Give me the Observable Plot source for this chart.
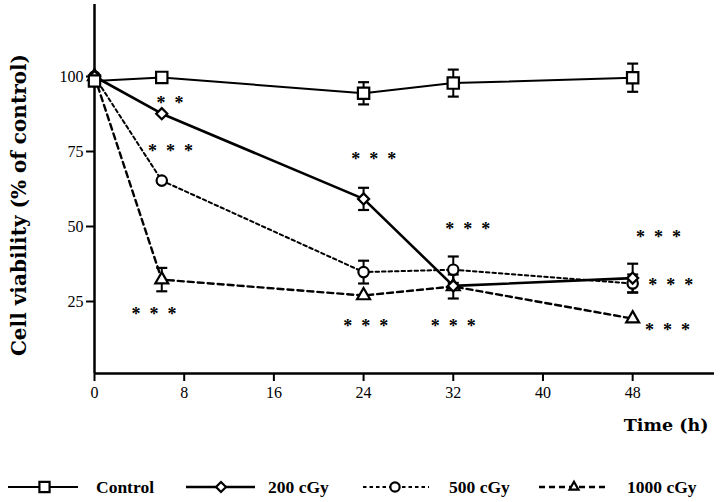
<!DOCTYPE html>
<html>
<head>
<meta charset="utf-8">
<script src="https://cdn.jsdelivr.net/npm/d3@7"></script>
<script src="https://cdn.jsdelivr.net/npm/@observablehq/plot@0.6"></script>
<style>
  html, body { margin: 0; padding: 0; background: #fff; }
  #chart svg { display: block; }
  #legend svg { display: block; }
</style>
</head>
<body>
<div id="chart"></div>
<div id="legend"></div>
<script>
// ---- data ----
const times = [0, 6, 24, 32, 48];
const seriesNames = ["Control", "200 cGy", "500 cGy", "1000 cGy"];
const controlValues = [98.5, 99.7, 94.4, 97.8, 99.6];
const cgy200Values = [100, 87.6, 59.2, 30.2, 32.8];
const cgy500Values = [100, 65.3, 34.8, 35.6, 31.0];
const cgy1000Values = [100, 32.3, 27.0, 30.0, 19.3];
const controlErrors = [0, 0, 3.7, 4.5, 4.7];
const cgy200Errors = [0, 0, 3.7, 0, 4.8];
const cgy500Errors = [0, 0, 3.8, 4.4, 3.0];
const cgy1000Errors = [0, 3.9, 0, 4.0, 0];
const starTimes = [6.73, 6.78, 5.3, 24.9, 24.2, 33.3, 32.0, 50.3, 51.4, 51.1];
const starValues = [92.7, 76.7, 22.3, 74.0, 18.3, 50.7, 18.3, 47.8, 31.8, 17.0];
const starLabels = ["**", "***", "***", "***", "***", "***", "***", "***", "***", "***"];
const xTicks = [0, 8, 16, 24, 32, 40, 48];
const yTicks = [25, 50, 75, 100];
const xDomain = [0, 55.3];
const yDomain = [1, 124];
const yLabel = "Cell viability (% of control)";
const xLabel = "Time (h)";

// ---- styles per series ----
const styles = {
  "Control": {symbol: "square", r: 6.4, width: 2, dash: null},
  "200 cGy": {symbol: "diamond2", r: 5.0, width: 2.6, dash: null},
  "500 cGy": {symbol: "circle", r: 5.2, width: 2, dash: "3.5,3"},
  "1000 cGy": {symbol: "triangle", r: 4.8, width: 2.4, dash: "6,4"}
};

const valueArrays = [controlValues, cgy200Values, cgy500Values, cgy1000Values];
const errorArrays = [controlErrors, cgy200Errors, cgy500Errors, cgy1000Errors];
const rows = [];
const errs = [];
seriesNames.forEach((name, i) => {
  times.forEach((t, j) => {
    rows.push({series: name, t, v: valueArrays[i][j]});
    if (errorArrays[i][j] > 0) errs.push({series: name, t, v: valueArrays[i][j], e: errorArrays[i][j]});
  });
});
const stars = starTimes.map((t, i) => ({t, v: starValues[i], label: starLabels[i].split("").join("  ")}));

// horizontal cap symbol for error bars
const capSymbol = {draw(ctx, size) { const w = Math.sqrt(size / Math.PI); ctx.moveTo(-w, 0); ctx.lineTo(w, 0); }};

const labelFont = "'DejaVu Serif', serif";
const marks = [
  Plot.ruleX([0], {y1: yDomain[0], y2: yDomain[1], stroke: "black", strokeWidth: 2.5}),
  Plot.ruleY([yDomain[0]], {x1: xDomain[0], x2: xDomain[1], stroke: "black", strokeWidth: 2.5}),
  Plot.axisY({ticks: yTicks, tickSize: 8, tickPadding: 3, label: null, strokeWidth: 2, fontSize: 16}),
  Plot.axisX({ticks: xTicks, tickSize: 8, tickPadding: 5, label: null, strokeWidth: 2, fontSize: 16}),
];
seriesNames.forEach(name => {
  const s = styles[name];
  marks.push(Plot.line(rows.filter(d => d.series === name), {x: "t", y: "v", stroke: "black", strokeWidth: s.width, strokeDasharray: s.dash}));
});
marks.push(
  Plot.ruleX(errs, {x: "t", y1: d => d.v - d.e, y2: d => d.v + d.e, stroke: "black", strokeWidth: 2}),
  Plot.dot(errs, {x: "t", y: d => d.v + d.e, symbol: capSymbol, r: 5.5, stroke: "black", fill: "none", strokeWidth: 2.2}),
  Plot.dot(errs, {x: "t", y: d => d.v - d.e, symbol: capSymbol, r: 5.5, stroke: "black", fill: "none", strokeWidth: 2.2})
);
// draw markers so that Control ends up on top
seriesNames.slice().reverse().forEach(name => {
  const s = styles[name];
  marks.push(Plot.dot(rows.filter(d => d.series === name), {x: "t", y: "v", symbol: s.symbol, r: s.r, stroke: "black", fill: "white", strokeWidth: 2.2}));
});
marks.push(
  Plot.text(stars, {x: "t", y: "v", text: "label", fontSize: 18, fontWeight: "bold", dy: 4.5, fill: "black"}),
  Plot.text([yLabel], {frameAnchor: "left", textAnchor: "middle", rotate: -90, dx: -75, dy: 16, fontSize: 20, fontWeight: "bold", fontFamily: labelFont, fill: "black"}),
  Plot.text([xLabel], {frameAnchor: "bottom-right", textAnchor: "end", dx: -6, dy: 57, fontSize: 17.5, fontWeight: "bold", fontFamily: labelFont, fill: "black"})
);

const chart = Plot.plot({
  width: 720,
  height: 460,
  marginLeft: 94,
  marginRight: 6,
  marginTop: 4,
  marginBottom: 87,
  x: {domain: xDomain},
  y: {domain: yDomain},
  style: {fontFamily: "'Liberation Serif', serif", fontSize: "16px", color: "black", background: "white", overflow: "visible"},
  marks
});
document.getElementById("chart").appendChild(chart);

// ---- legend ----
const legendLayout = [
  {x1: 8, x2: 78, cx: 44.5, tx: 96},
  {x1: 186, x2: 255, cx: 221, tx: 268},
  {x1: 363, x2: 429, cx: 395, tx: 449},
  {x1: 539, x2: 608, cx: 574, tx: 627}
];
const lsvg = d3.select("#legend").append("svg").attr("width", 720).attr("height", 42)
  .style("font-family", "'Liberation Serif', serif");
const cy = 27;
seriesNames.forEach((name, i) => {
  const s = styles[name], L = legendLayout[i];
  lsvg.append("line").attr("x1", L.x1).attr("x2", L.x2).attr("y1", cy).attr("y2", cy)
    .attr("stroke", "black").attr("stroke-width", s.width).attr("stroke-dasharray", s.dash);
  const symType = {square: d3.symbolSquare, diamond2: d3.symbolDiamond2, circle: d3.symbolCircle, triangle: d3.symbolTriangle2}[s.symbol];
  lsvg.append("path").attr("d", d3.symbol(symType, s.r * s.r * Math.PI * 0.8)())
    .attr("transform", `translate(${L.cx},${cy})`).attr("fill", "white").attr("stroke", "black").attr("stroke-width", 2.2);
  lsvg.append("text").attr("x", L.tx).attr("y", cy).attr("dy", "0.35em").attr("font-size", 17.5).attr("font-weight", "bold").text(name);
});
</script>
</body>
</html>
